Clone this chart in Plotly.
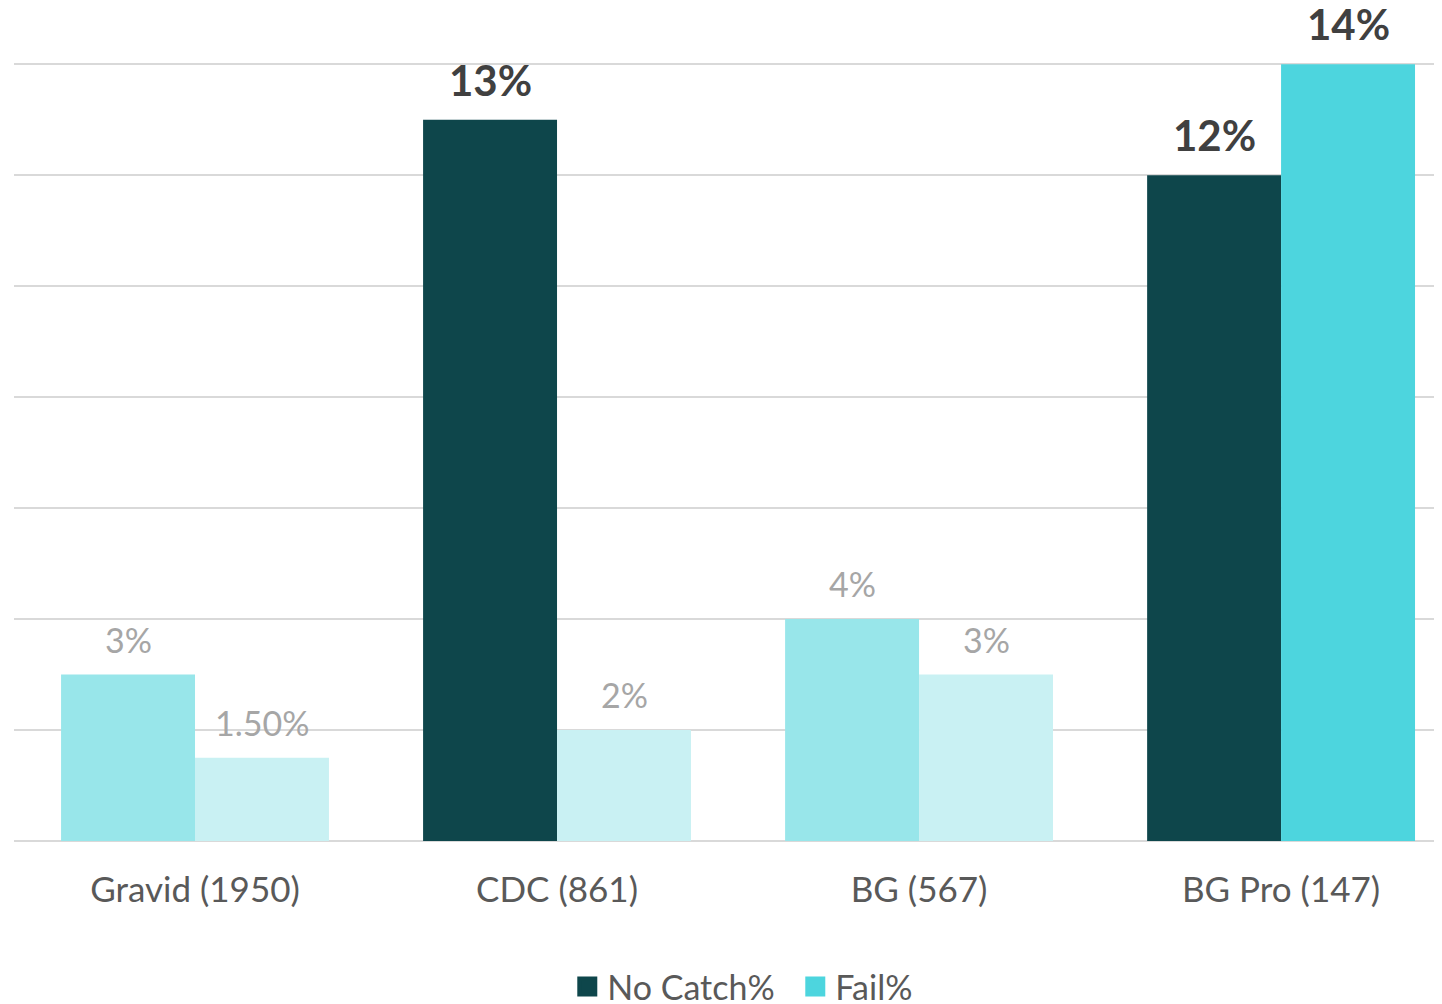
import plotly.graph_objects as go

categories = ["Gravid (1950)", "CDC (861)", "BG (567)", "BG Pro (147)"]
no_catch = [3, 13, 4, 12]
fail = [1.5, 2, 3, 14]
no_catch_labels = ["3%", "13%", "4%", "12%"]
fail_labels = ["1.50%", "2%", "3%", "14%"]
no_catch_highlight = [False, True, False, True]
fail_highlight = [False, False, False, True]

FONT = "Lato"
DARK = "#0E464B"
CYAN = "#4DD5DE"
LIGHT = "#98E6EA"
LIGHTER = "#C9F1F3"

W, H = 1434, 996
ML, MR, MT, MB = 6, 2, 54, 163
BARGAP = 0.26
XMAX = 3.439
cat_px = (W - ML - MR) / (XMAX + 0.5)
bar_px = cat_px * (1 - BARGAP) / 2

no_catch_colors = [DARK if h else LIGHT for h in no_catch_highlight]
fail_colors = [CYAN if h else LIGHTER for h in fail_highlight]

fig = go.Figure()
fig.add_trace(go.Bar(
    x=categories, y=no_catch, name="No Catch%",
    marker=dict(color=no_catch_colors, line=dict(width=0)),
    showlegend=False, hoverinfo="skip",
))
fig.add_trace(go.Bar(
    x=categories, y=fail, name="Fail%",
    marker=dict(color=fail_colors, line=dict(width=0)),
    showlegend=False, hoverinfo="skip",
))
# legend entries (square markers)
for nm, col in [("No Catch%", DARK), ("Fail%", CYAN)]:
    fig.add_trace(go.Scatter(x=[categories[0]], y=[None], name=nm, mode="markers",
                             marker=dict(symbol="square", size=16, color=col,
                                         line=dict(color=col, width=4)),
                             showlegend=True, hoverinfo="skip"))

annotations = []
for vals, labels, hl, sign in [(no_catch, no_catch_labels, no_catch_highlight, -1),
                               (fail, fail_labels, fail_highlight, 1)]:
    for c, v, lab, h in zip(categories, vals, labels, hl):
        annotations.append(dict(
            x=c, y=v, xref="x", yref="y", text=f"<b>{lab}</b>" if h else lab,
            showarrow=False, xanchor="center", yanchor="bottom",
            xshift=sign * bar_px / 2, yshift=13,
            font=dict(family=FONT, size=42 if h else 34,
                      color="#404040" if h else "#A6A6A6"),
        ))

fig.update_layout(
    width=W, height=H,
    margin=dict(l=ML, r=MR, t=MT, b=MB, autoexpand=False),
    paper_bgcolor="white", plot_bgcolor="white",
    barmode="group", bargap=BARGAP, bargroupgap=0,
    font=dict(family=FONT, color="#595959", size=35),
    annotations=annotations,
    legend=dict(orientation="h", x=0.388, xanchor="left",
                y=-0.1874, yref="paper", yanchor="middle",
                font=dict(family=FONT, size=34, color="#595959"),
                itemsizing="trace", traceorder="normal", entrywidth=183),
    xaxis=dict(range=[-0.5, XMAX], showgrid=False, zeroline=False, showline=False,
               automargin=False,
               ticks="outside", ticklen=18, tickcolor="rgba(0,0,0,0)",
               tickfont=dict(family=FONT, size=35, color="#595959")),
    yaxis=dict(range=[0, 14.04], dtick=2, showgrid=True, gridcolor="#D9D9D9", gridwidth=2,
               zeroline=True, zerolinecolor="#D9D9D9", zerolinewidth=2,
               automargin=False, showticklabels=False),
)

fig.write_html("out.html")
